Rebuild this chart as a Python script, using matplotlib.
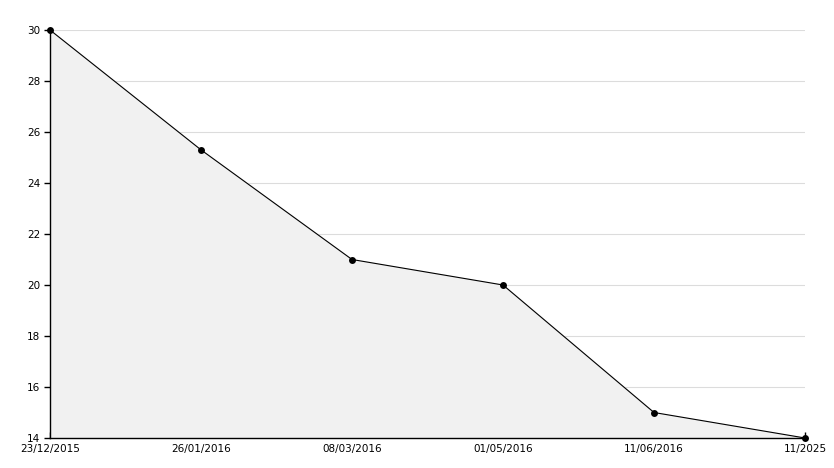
import matplotlib
matplotlib.use("Agg")
import numpy as np
from matplotlib import pyplot as plt
from matplotlib.ticker import MultipleLocator

dates = ['23/12/2015', '26/01/2016', '08/03/2016', '01/05/2016', '11/06/2016', '11/2025']
values = [30, 25.3, 21, 20, 15, 14]

fig = plt.figure(figsize=(8.34, 4.68), dpi=100)
ax = fig.add_axes([50 / 834, 30 / 468, 755 / 834, 408 / 468])

x = np.arange(len(dates))
ax.fill_between(x, values, 14, color='#f1f1f1', zorder=1)
ax.plot(x, values, color='black', linewidth=0.8, marker='o', markersize=5,
        markeredgewidth=0, zorder=3, clip_on=False)

ax.set_xlim(0, len(dates) - 1)
ax.set_ylim(14, 30)
ax.set_xticks(x)
ax.set_xticklabels(dates)
ax.yaxis.set_major_locator(MultipleLocator(2))
ax.yaxis.set_minor_locator(MultipleLocator(1))

ax.grid(axis='y', which='major', color='#dcdcdc', linewidth=0.8, zorder=0)
ax.set_axisbelow(True)

for side in ['top', 'right']:
    ax.spines[side].set_visible(False)
for side in ['left', 'bottom']:
    ax.spines[side].set_linewidth(1.0)

ax.tick_params(axis='y', which='major', direction='out', length=4, width=1,
               labelsize=7.5, pad=3)
ax.tick_params(axis='y', which='minor', direction='in', length=3, width=1)
ax.tick_params(axis='x', which='major', direction='in', length=4, width=1,
               labelsize=7.5, pad=4)

# the lowest y label sits a little higher in the original
ax.get_yticklabels()[0].set_verticalalignment('bottom')

plt.savefig('out.png', dpi=100)
